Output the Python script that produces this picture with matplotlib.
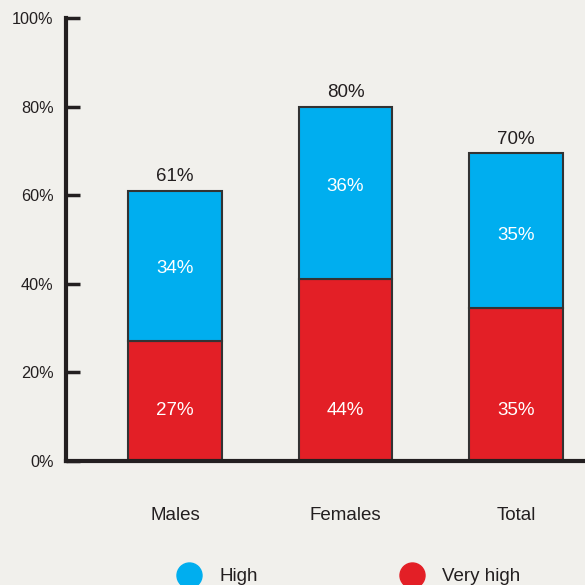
import matplotlib
matplotlib.use("Agg")
import matplotlib.pyplot as plt
from matplotlib.lines import Line2D

categories = ["Males", "Females", "Total"]
very_high = [27, 41, 34.5]
high = [34, 39, 35]
very_high_labels = ["27%", "44%", "35%"]
high_labels = ["34%", "36%", "35%"]
total_labels = ["61%", "80%", "70%"]
yticks = [0, 20, 40, 60, 80, 100]
ytick_labels = ["0%", "20%", "40%", "60%", "80%", "100%"]

BG = "#F1F0EC"
BLUE = "#00AEEF"
RED = "#E31F26"
DARK = "#231F20"

plt.rcParams["font.family"] = ["Liberation Sans", "DejaVu Sans"]

fig = plt.figure(figsize=(5.85, 5.85), dpi=100, facecolor=BG)
ax = fig.add_axes([66 / 585, (585 - 461) / 585, (585 - 66) / 585, (461 - 18) / 585])
ax.set_facecolor(BG)

x = list(range(len(categories)))
w = 0.55
ax.bar(x, very_high, width=w, color=RED, edgecolor="#333333", linewidth=1.5, zorder=2)
ax.bar(x, high, bottom=very_high, width=w, color=BLUE, edgecolor="#333333", linewidth=1.5, zorder=2)

high_offsets = [-0.6, 1.5, -1.0]
for i in x:
    ax.text(i, 11.4, very_high_labels[i], ha="center", va="center",
            color="white", fontsize=13.5)
    ax.text(i, very_high[i] + high[i] / 2 + high_offsets[i],
            high_labels[i], ha="center", va="center", color="white", fontsize=13.5)
    ax.text(i, very_high[i] + high[i] + 1.2, total_labels[i], ha="center", va="bottom",
            color=DARK, fontsize=13.5)

ax.set_xlim(-0.64, 2.405)
ax.set_ylim(0, 100)
ax.set_yticks(yticks)
ax.set_yticklabels(ytick_labels, fontsize=11.7, color=DARK)
ax.tick_params(axis="y", direction="in", length=10, width=2.5, color=DARK, pad=9)
ax.set_xticks(x)
ax.set_xticklabels(categories, fontsize=13.5, color=DARK)
ax.tick_params(axis="x", length=0, pad=33)
for s in ["top", "right"]:
    ax.spines[s].set_visible(False)
for s in ["left", "bottom"]:
    ax.spines[s].set_color(DARK)
    ax.spines[s].set_linewidth(3)

handles = [
    Line2D([], [], marker="o", linestyle="none", markersize=18, markerfacecolor=BLUE, markeredgecolor=BLUE),
    Line2D([], [], marker="o", linestyle="none", markersize=18, markerfacecolor=RED, markeredgecolor=RED),
]
fig.legend(handles, ["High", "Very high"], loc="center", bbox_to_anchor=(0.59, 0.014), ncol=2,
           frameon=False, fontsize=13.5, columnspacing=7.2, handletextpad=0.6, labelcolor=DARK)

fig.savefig("out.png", dpi=100, facecolor=BG)
